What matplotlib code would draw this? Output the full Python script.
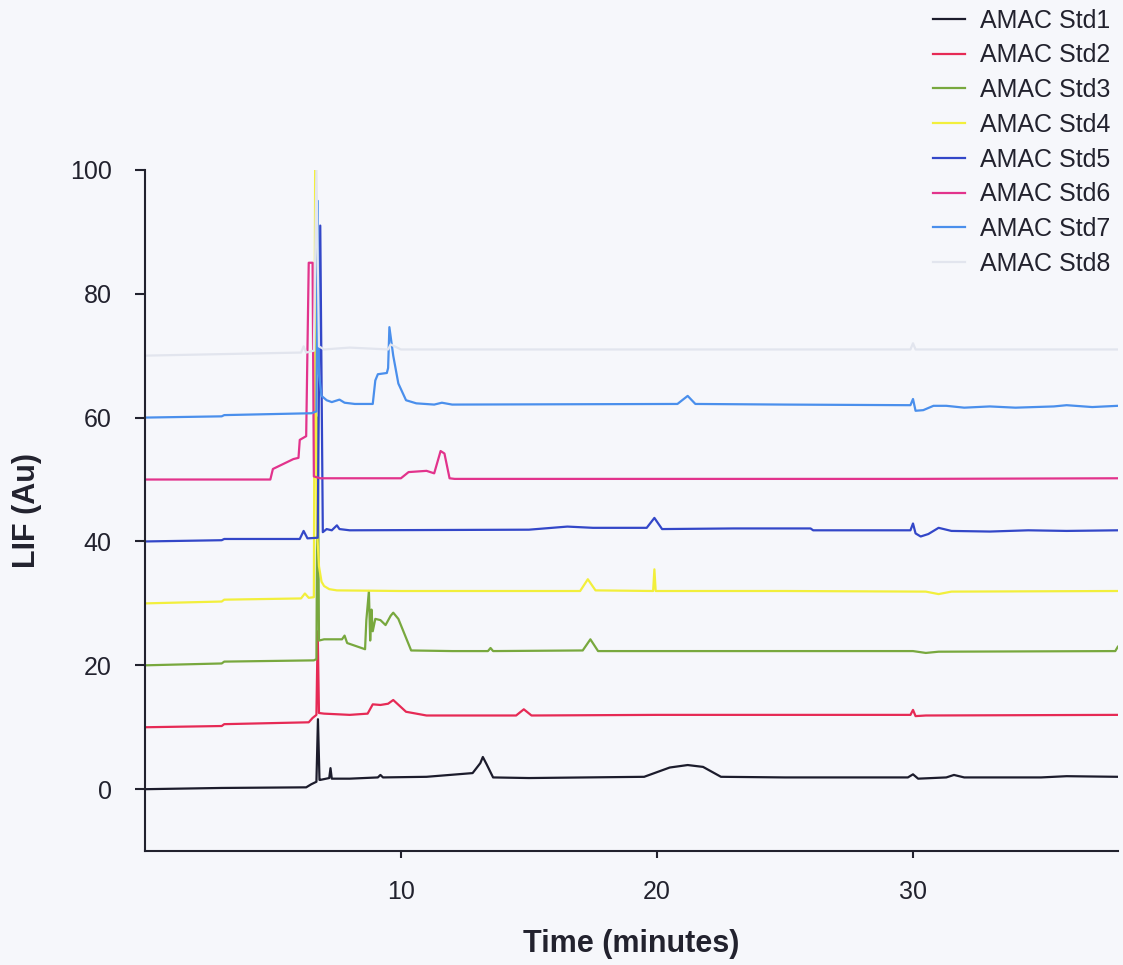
import matplotlib
matplotlib.use("Agg")
import matplotlib.pyplot as plt

plt.rcParams["font.family"] = ["Liberation Sans", "DejaVu Sans"]

# trace data (time in minutes, LIF in Au)
labels = ["AMAC Std1", "AMAC Std2", "AMAC Std3", "AMAC Std4",
          "AMAC Std5", "AMAC Std6", "AMAC Std7", "AMAC Std8"]
colors = ["#1c1c2c", "#e62a55", "#78a83e", "#f2ef3c",
          "#3347c8", "#e2338c", "#4a8fec", "#e2e5ee"]

t1 = [0, 3, 6.3, 6.5, 6.7, 6.76, 6.82, 6.85, 7.2, 7.25, 7.3, 8, 9.1, 9.2, 9.3, 11, 12.8, 13.1, 13.2,
      13.35, 13.6, 15, 19.5, 20.5, 21.2, 21.8, 22.5, 25, 29.8, 30, 30.2, 31.3, 31.6, 32, 35, 36, 38]
v1 = [0, 0.2, 0.3, 0.8, 1.2, 11.3, 1.5, 1.5, 1.8, 3.4, 1.7, 1.7, 1.9, 2.3, 1.9, 2.0, 2.6, 4.2, 5.2,
      4.0, 1.9, 1.8, 2.0, 3.5, 3.9, 3.6, 2.0, 1.9, 1.9, 2.4, 1.7, 1.9, 2.3, 1.9, 1.9, 2.1, 2.0]

t2 = [0, 3, 3.1, 6.4, 6.55, 6.7, 6.75, 6.8, 7.0, 8.0, 8.7, 8.9, 9.2, 9.5, 9.7, 10.2, 11,
      14.5, 14.8, 15.1, 20, 29.9, 30.0, 30.1, 30.5, 38]
v2 = [10, 10.2, 10.5, 10.8, 11.5, 12, 25.5, 12.3, 12.2, 12, 12.2, 13.7, 13.6, 13.8, 14.4, 12.5, 11.9,
      11.9, 12.9, 11.9, 12.0, 12, 12.8, 11.8, 11.9, 12.0]

t3 = [0, 3, 3.1, 6.6, 6.7, 6.75, 6.8, 7.0, 7.7, 7.8, 7.9, 8.6, 8.65, 8.75, 8.8, 8.85, 8.9, 9.0, 9.2,
      9.4, 9.6, 9.7, 9.9, 10.4, 12, 13.4, 13.5, 13.6, 17.1, 17.4, 17.7, 20, 30, 30.5, 31, 37.9, 38]
v3 = [20, 20.3, 20.6, 20.8, 21, 60, 24, 24.2, 24.2, 24.8, 23.6, 22.6, 27.3, 32, 24, 29, 25.5, 27.5, 27.3,
      26.5, 28, 28.5, 27.5, 22.4, 22.3, 22.3, 22.8, 22.3, 22.4, 24.2, 22.3, 22.3, 22.3, 22.0, 22.2, 22.3, 23.0]

t4 = [0, 3, 3.1, 6.1, 6.25, 6.4, 6.6, 6.65, 6.72, 6.8, 6.9, 7.0, 7.2, 7.5, 10, 17.0, 17.3, 17.6,
      19.85, 19.9, 19.95, 25, 30.5, 31, 31.5, 38]
v4 = [30, 30.3, 30.6, 30.8, 31.6, 30.9, 31, 100, 42, 36, 33.5, 32.8, 32.3, 32.1, 32.0, 32.0, 33.9, 32.1,
      32.0, 35.5, 32.0, 32.0, 31.9, 31.5, 31.9, 32.0]

t5 = [0, 3, 3.1, 6.05, 6.2, 6.35, 6.75, 6.85, 6.95, 7.1, 7.3, 7.5, 7.6, 8, 15, 16.5, 17.5, 19.6, 19.9,
      20.2, 23, 26, 26.1, 29.9, 30.0, 30.1, 30.3, 30.6, 31.0, 31.5, 33, 34.5, 36, 38]
v5 = [40, 40.2, 40.4, 40.4, 41.7, 40.5, 40.6, 91, 41.5, 42, 41.8, 42.6, 42.0, 41.8, 41.9, 42.4, 42.2, 42.2, 43.8,
      42.0, 42.1, 42.1, 41.8, 41.8, 42.9, 41.3, 40.8, 41.2, 42.2, 41.7, 41.6, 41.8, 41.7, 41.8]

t6 = [0, 4.9, 5.0, 5.8, 6.0, 6.05, 6.3, 6.4, 6.55, 6.6, 6.85, 7.0, 10, 10.3, 11.0, 11.3, 11.55,
      11.7, 11.9, 12.1, 20, 30, 38]
v6 = [50, 50, 51.7, 53.3, 53.5, 56.4, 57, 85, 85, 50.5, 50.2, 50.2, 50.2, 51.2, 51.4, 51.0, 54.6,
      54.2, 50.2, 50.1, 50.1, 50.1, 50.2]

t7 = [0, 3, 3.1, 6.5, 6.7, 6.75, 6.8, 6.9, 7.1, 7.3, 7.6, 7.8, 8.2, 8.9, 9.0, 9.1, 9.45, 9.5, 9.55,
      9.7, 9.9, 10.2, 10.6, 11.3, 11.6, 12, 20.8, 21.2, 21.5, 25, 29.9, 30.0, 30.1, 30.4, 30.8, 31.3,
      32, 33, 34, 35.5, 36, 37, 38]
v7 = [60, 60.2, 60.4, 60.7, 61, 95, 67, 63.5, 62.8, 62.5, 62.9, 62.4, 62.2, 62.2, 66, 67, 67.2, 68, 74.6,
      70, 65.5, 62.8, 62.3, 62.1, 62.4, 62.1, 62.2, 63.5, 62.2, 62.1, 62.0, 63.0, 61.1, 61.2, 61.9, 61.9,
      61.6, 61.8, 61.6, 61.8, 62.0, 61.7, 61.9]

t8 = [0, 6.1, 6.2, 6.3, 6.6, 6.7, 6.8, 7.0, 8, 9.5, 9.6, 10, 20, 29.9, 30.0, 30.1, 38]
v8 = [70, 70.5, 71.5, 70.5, 70.8, 100, 71.5, 71, 71.3, 71, 71.8, 71, 71, 71, 72, 71, 71]

times = [t1, t2, t3, t4, t5, t6, t7, t8]
values = [v1, v2, v3, v4, v5, v6, v7, v8]

bg = "#f6f7fb"
ink = "#22222e"
fig = plt.figure(figsize=(11.23, 9.65), dpi=100, facecolor=bg)
ax = fig.add_axes([0.129, 0.118, 0.8664, 0.706], facecolor=bg)

for t, v, c, lab in zip(times, values, colors, labels):
    ax.plot(t, v, color=c, lw=1.6, label=lab)

ax.set_xlim(0, 38)
ax.set_ylim(-10, 100)
ax.set_xticks([10, 20, 30])
ax.set_yticks([0, 20, 40, 60, 80, 100])
for s in ["top", "right"]:
    ax.spines[s].set_visible(False)
for s in ["left", "bottom"]:
    ax.spines[s].set_linewidth(1.5)
    ax.spines[s].set_color(ink)
ax.tick_params(axis="y", length=7, width=1.5, pad=17, labelsize=18, colors=ink)
ax.tick_params(axis="x", length=5, width=1.5, pad=16, labelsize=18, colors=ink)
ax.set_xlabel("Time (minutes)", fontsize=22, fontweight="bold", color=ink)
ax.set_ylabel("LIF (Au)", fontsize=22, fontweight="bold", color=ink)
ax.xaxis.set_label_coords(0.5, -0.114)
ax.yaxis.set_label_coords(-0.106, 0.5)

fig.legend(loc="upper right", bbox_to_anchor=(1.0, 1.004), frameon=False, borderpad=0.0,
           fontsize=18, handlelength=1.3, labelspacing=0.43, handletextpad=0.6,
           labelcolor=ink)

fig.savefig("out.png", dpi=100, facecolor=bg)
